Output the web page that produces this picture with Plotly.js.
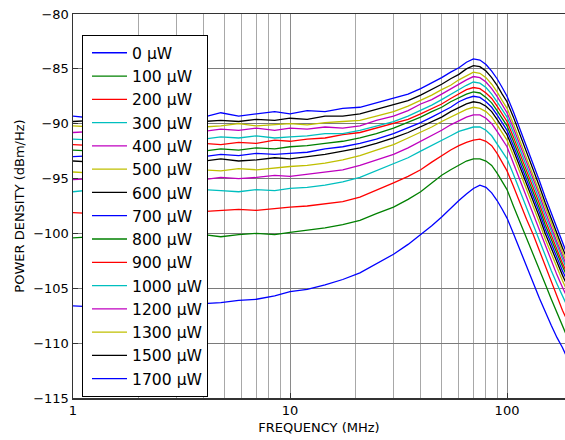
<!DOCTYPE html>
<html>
<head>
<meta charset="utf-8">
<script src="https://cdn.plot.ly/plotly-3.0.1.min.js"></script>
<style>html,body{margin:0;padding:0;background:#fff;overflow:hidden}#chart{width:565px;height:440px}</style>
</head>
<body>
<div id="chart"></div>
<script>
// Frequency points (MHz)
const freq = [1, 1.25, 1.5, 1.8, 2.2, 2.7, 3.3, 4, 4.8, 5.8, 7, 8.5, 10, 12, 14.5, 17.5, 21, 25, 30, 35, 40, 45, 50, 55, 60, 65, 70, 75, 80, 85, 90, 95, 100, 107, 115, 123, 132, 141, 150, 160, 170, 180, 190];

const seriesNames = ["0 µW", "100 µW", "200 µW", "300 µW", "400 µW", "500 µW", "600 µW", "700 µW", "800 µW", "900 µW", "1000 µW", "1200 µW", "1300 µW", "1500 µW", "1700 µW"];

const p0 = [-106.6,-106.7,-106.5,-106.6,-106.4,-106.6,-106.4,-106.4,-106.3,-106.1,-106.0,-105.7,-105.3,-105.1,-104.7,-104.2,-103.6,-102.8,-101.9,-101.0,-100.1,-99.3,-98.5,-97.7,-97.0,-96.4,-95.9,-95.6,-95.8,-96.3,-97.0,-97.8,-98.6,-100.0,-101.6,-103.0,-104.5,-105.9,-107.2,-108.4,-109.5,-110.4,-111.4];
const p100 = [-100.4,-100.3,-100.5,-100.3,-100.4,-100.2,-100.3,-100.1,-100.3,-100.1,-100.0,-100.1,-99.9,-99.7,-99.5,-99.2,-98.8,-98.2,-97.6,-96.9,-96.2,-95.4,-94.7,-94.2,-93.8,-93.4,-93.2,-93.2,-93.4,-93.8,-94.5,-95.3,-96.0,-97.5,-99.0,-100.3,-101.8,-103.2,-104.6,-106.0,-107.3,-108.4,-109.5];
const p200 = [-98.1,-98.2,-98.0,-98.2,-98.1,-97.9,-98.1,-98.0,-97.9,-97.8,-97.9,-97.7,-97.6,-97.5,-97.3,-97.1,-96.7,-96.1,-95.4,-94.8,-94.2,-93.5,-92.9,-92.4,-92.0,-91.7,-91.5,-91.4,-91.6,-92.0,-92.7,-93.5,-94.3,-95.7,-97.3,-98.7,-100.1,-101.6,-103.0,-104.4,-105.7,-107.0,-108.0];
const p300 = [-96.2,-96.0,-96.2,-96.1,-96.3,-96.1,-96.2,-96.0,-96.1,-96.2,-96.0,-96.1,-95.9,-95.8,-95.6,-95.3,-94.9,-94.3,-93.7,-93.1,-92.5,-92.0,-91.5,-91.1,-90.7,-90.5,-90.3,-90.3,-90.6,-91.1,-91.8,-92.5,-93.2,-94.6,-96.2,-97.6,-99.1,-100.6,-102.0,-103.4,-104.6,-105.7,-106.7];
const p400 = [-95.1,-95.0,-95.2,-95.0,-95.1,-95.2,-95.0,-95.1,-94.9,-95.0,-94.9,-94.7,-94.8,-94.6,-94.4,-94.2,-93.8,-93.3,-92.8,-92.2,-91.6,-91.1,-90.6,-90.1,-89.7,-89.4,-89.2,-89.2,-89.5,-90.0,-90.7,-91.4,-92.1,-93.6,-95.2,-96.6,-98.2,-99.7,-101.1,-102.5,-103.8,-104.9,-105.9];
const p500 = [-94.4,-94.5,-94.3,-94.5,-94.4,-94.3,-94.4,-94.2,-94.3,-94.1,-94.2,-94.0,-93.9,-93.8,-93.6,-93.3,-92.9,-92.4,-91.9,-91.3,-90.8,-90.3,-89.8,-89.4,-89.0,-88.7,-88.5,-88.6,-88.9,-89.4,-90.1,-90.8,-91.5,-92.9,-94.5,-95.9,-97.5,-99.0,-100.5,-101.9,-103.2,-104.3,-105.3];
const p600 = [-93.4,-93.5,-93.3,-93.5,-93.4,-93.3,-93.5,-93.4,-93.2,-93.4,-93.3,-93.1,-93.2,-93.0,-92.8,-92.5,-92.2,-91.8,-91.3,-90.8,-90.3,-89.8,-89.4,-88.9,-88.5,-88.2,-88.0,-88.1,-88.4,-88.9,-89.6,-90.3,-91.0,-92.4,-94.0,-95.4,-97.0,-98.5,-100.0,-101.4,-102.7,-103.8,-104.8];
const p700 = [-93.0,-92.9,-93.1,-92.9,-93.0,-93.2,-92.9,-93.0,-92.8,-92.9,-92.7,-92.8,-92.7,-92.6,-92.3,-92.1,-91.8,-91.4,-90.9,-90.4,-89.9,-89.4,-88.9,-88.5,-88.0,-87.7,-87.5,-87.6,-88.0,-88.5,-89.2,-89.9,-90.6,-92.0,-93.6,-95.0,-96.6,-98.1,-99.6,-101.0,-102.3,-103.4,-104.4];
const p800 = [-92.4,-92.5,-92.3,-92.4,-92.6,-92.4,-92.3,-92.5,-92.3,-92.4,-92.2,-92.3,-92.1,-92.0,-91.8,-91.6,-91.3,-90.9,-90.4,-89.9,-89.4,-88.9,-88.5,-88.0,-87.6,-87.3,-87.1,-87.2,-87.6,-88.1,-88.8,-89.5,-90.2,-91.6,-93.2,-94.6,-96.2,-97.7,-99.2,-100.6,-101.9,-103.0,-104.0];
const p900 = [-91.9,-92.0,-91.8,-92.0,-91.9,-91.7,-91.9,-91.8,-91.9,-91.7,-91.8,-91.5,-91.6,-91.4,-91.3,-91.0,-90.8,-90.4,-90.0,-89.6,-89.1,-88.6,-88.2,-87.7,-87.3,-86.9,-86.7,-86.8,-87.2,-87.7,-88.4,-89.1,-89.8,-91.2,-92.8,-94.2,-95.8,-97.3,-98.8,-100.2,-101.5,-102.7,-103.7];
const p1000 = [-91.4,-91.5,-91.3,-91.5,-91.4,-91.3,-91.5,-91.4,-91.2,-91.3,-91.1,-91.3,-91.2,-91.1,-90.9,-90.9,-90.6,-90.2,-89.8,-89.3,-88.8,-88.3,-87.8,-87.3,-86.9,-86.5,-86.2,-86.3,-86.7,-87.3,-88.0,-88.7,-89.4,-90.8,-92.4,-93.8,-95.4,-96.9,-98.4,-99.8,-101.2,-102.3,-103.4];
const p1200 = [-90.8,-90.7,-90.9,-90.7,-90.8,-90.6,-90.8,-90.7,-90.5,-90.6,-90.4,-90.6,-90.4,-90.5,-90.3,-90.4,-90.2,-89.7,-89.3,-88.8,-88.2,-87.8,-87.3,-86.8,-86.4,-86.0,-85.7,-85.8,-86.2,-86.8,-87.5,-88.3,-89.0,-90.4,-92.0,-93.4,-95.0,-96.5,-98.0,-99.5,-100.8,-102.0,-103.1];
const p1300 = [-90.2,-90.3,-90.1,-90.3,-90.2,-90.4,-90.1,-90.3,-90.2,-90.0,-90.2,-90.1,-90.0,-90.1,-89.9,-89.8,-89.7,-89.3,-88.9,-88.4,-87.9,-87.4,-86.9,-86.5,-86.0,-85.6,-85.3,-85.4,-85.8,-86.4,-87.1,-87.9,-88.6,-90.0,-91.6,-93.0,-94.6,-96.2,-97.6,-99.1,-100.5,-101.7,-102.8];
const p1500 = [-89.8,-89.7,-89.9,-89.7,-89.9,-89.8,-89.6,-89.8,-89.7,-89.8,-89.6,-89.7,-89.5,-89.6,-89.3,-89.3,-89.1,-88.7,-88.3,-87.9,-87.4,-86.9,-86.4,-85.9,-85.5,-85.0,-84.7,-84.8,-85.2,-85.8,-86.5,-87.3,-88.0,-89.4,-91.0,-92.5,-94.1,-95.7,-97.2,-98.7,-100.1,-101.3,-102.4];
const p1700 = [-89.3,-89.5,-89.2,-89.4,-89.1,-89.4,-89.2,-89.4,-89.0,-89.3,-89.1,-88.9,-89.1,-88.8,-88.9,-88.6,-88.5,-88.1,-87.7,-87.3,-86.8,-86.3,-85.8,-85.3,-84.9,-84.4,-84.1,-84.2,-84.6,-85.2,-85.9,-86.7,-87.5,-88.9,-90.5,-92.0,-93.6,-95.2,-96.7,-98.2,-99.6,-100.9,-102.0];

const seriesValues = [p0, p100, p200, p300, p400, p500, p600, p700, p800, p900, p1000, p1200, p1300, p1500, p1700];

const xTickVals = [1, 10, 100];
const xTickText = ["1", "10", "100"];
const xMinorVals = [2, 3, 4, 5, 6, 7, 8, 9, 20, 30, 40, 50, 60, 70, 80, 90, 200];

// matplotlib classic colour cycle
const cycle = ["#0000ff", "#008000", "#ff0000", "#00bfbf", "#bf00bf", "#bfbf00", "#000000"];

const font = "DejaVu Sans, Liberation Sans, sans-serif";

const traces = seriesValues.map((vals, i) => ({
  type: "scatter",
  mode: "lines",
  x: freq,
  y: vals,
  name: seriesNames[i],
  line: {color: cycle[i % cycle.length], width: 1.3}
}));

const layout = {
  width: 565,
  height: 440,
  margin: {l: 73, r: 0, t: 14, b: 42, pad: 0},
  paper_bgcolor: "#ffffff",
  plot_bgcolor: "#ffffff",
  font: {family: font, size: 13, color: "#000"},
  showlegend: true,
  legend: {
    x: 0.0183, y: 0.945, xanchor: "left", yanchor: "top",
    bgcolor: "#ffffff", bordercolor: "#000000", borderwidth: 1,
    font: {family: font, size: 15.6, color: "#000"},
    itemwidth: 35, indentation: 4, tracegroupgap: 0
  },
  xaxis: {
    type: "log",
    range: [0, Math.log10(185)],
    tickmode: "array",
    tickvals: xTickVals,
    ticktext: xTickText,
    ticks: "inside", ticklen: 5, tickcolor: "#333",
    showgrid: true, gridcolor: "#8a8a8a", gridwidth: 1,
    minor: {tickmode: "array", tickvals: xMinorVals, showgrid: true, gridcolor: "#a8a8a8", gridwidth: 1, ticks: ""},
    showline: true, linecolor: "#333", linewidth: 1.5, mirror: true,
    zeroline: false,
    tickfont: {family: font, size: 13, color: "#000"},
    title: {text: "FREQUENCY (MHz)", font: {family: font, size: 13, color: "#000"}, standoff: 6}
  },
  yaxis: {
    range: [-115, -80],
    tick0: -80, dtick: 5,
    ticks: "inside", ticklen: 5, tickcolor: "#333",
    showgrid: true, gridcolor: "#7a7a7a", gridwidth: 1,
    showline: true, linecolor: "#333", linewidth: 1.5, mirror: false,
    zeroline: false,
    tickfont: {family: font, size: 13, color: "#000"},
    title: {text: "POWER DENSITY (dBm/Hz)", font: {family: font, size: 13, color: "#000"}, standoff: 5}
  }
};

Plotly.newPlot("chart", traces, layout, {displayModeBar: false, staticPlot: true});
</script>
</body>
</html>
